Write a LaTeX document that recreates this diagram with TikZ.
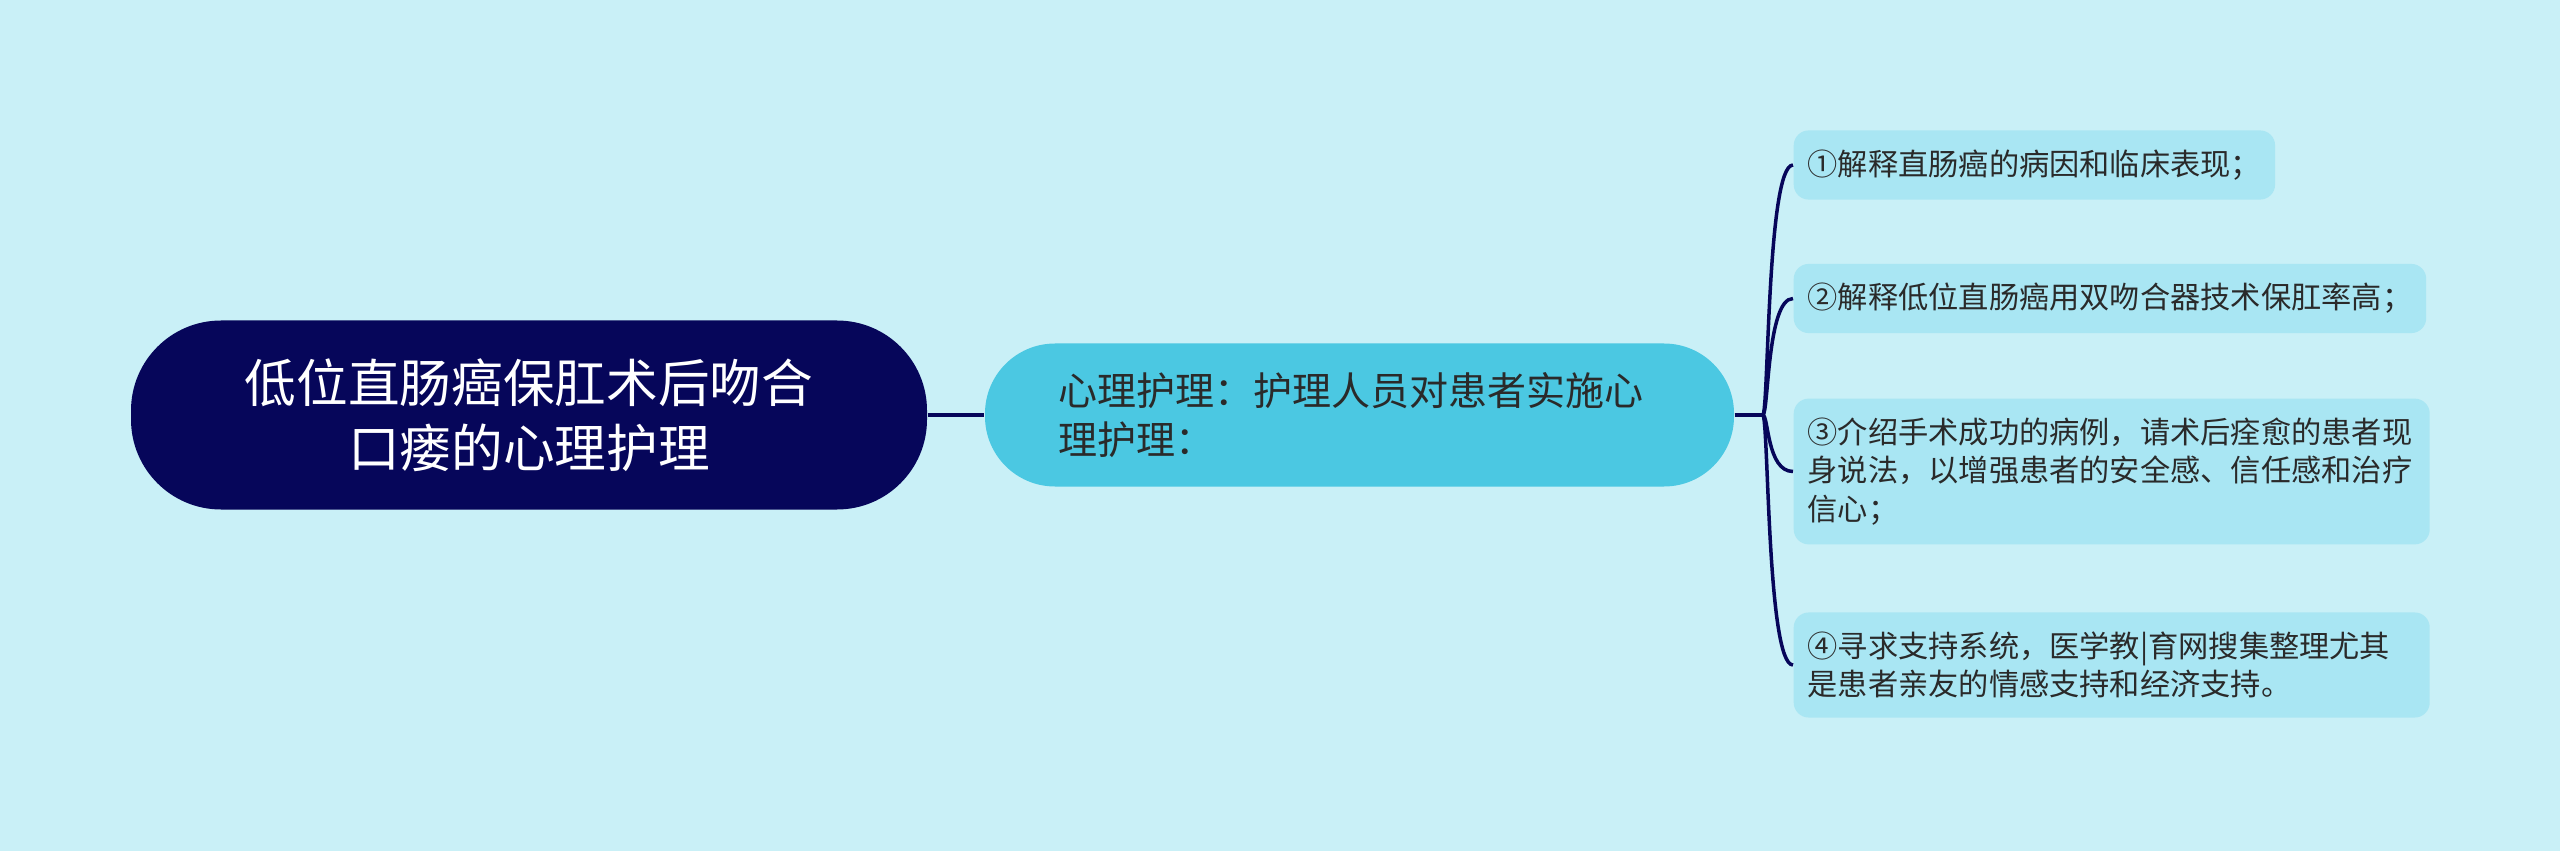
\documentclass[tikz,border=0pt]{standalone}
\usepackage{fontspec}
\newfontfamily\cjk{Noto Sans CJK SC}
\usetikzlibrary{calc}

\definecolor{bgcol}{HTML}{C9F0F7}
\definecolor{navy}{HTML}{06065A}
\definecolor{midcol}{HTML}{4BC8E2}
\definecolor{leafcol}{HTML}{A9E6F3}
\definecolor{txtcol}{HTML}{2A2A2A}

\tikzset{
	rootbox/.style={fill=navy, text=white, rounded corners=0.9cm, minimum width=7.96cm, minimum height=1.89cm, align=center, font=\cjk\fontsize{14.7pt}{18.5pt}\selectfont},
	midbox/.style={fill=midcol, text=txtcol, rounded corners=0.7cm, text width=6.03cm, inner xsep=0.73cm, minimum height=1.43cm, align=left, font=\cjk\fontsize{11.1pt}{13.9pt}\selectfont},
	leafbox/.style={fill=leafcol, text=txtcol, rounded corners=0.15cm, inner xsep=0.14cm, inner ysep=5.5pt, align=left, anchor=west, font=\cjk\fontsize{8.6pt}{10.9pt}\selectfont},
	link/.style={draw=navy, line width=0.035cm}
}

\begin{document}
\begin{tikzpicture}

	\useasboundingbox[fill=bgcol] (0,0) rectangle (25.6,8.51);

	\node [rootbox] (root) at (5.29,4.36) {低位直肠癌保肛术后吻合\\口瘘的心理护理};
	\node [midbox] (mid) at (13.595,4.36) {心理护理：护理人员对患者实施心\\理护理：};

	\node [leafbox] (l1) at (17.93,6.86) {①解释直肠癌的病因和临床表现；};
	\node [leafbox] (l2) at (17.93,5.525) {②解释低位直肠癌用双吻合器技术保肛率高；};
	\node [leafbox, text width=6.08cm] (l3) at (17.93,3.795) {③介绍手术成功的病例，请术后痊愈的患者现\\身说法，以增强患者的安全感、信任感和治疗\\信心；};
	\node [leafbox, text width=6.08cm] (l4) at (17.93,1.86) {④寻求支持系统，医学教|育网搜集整理尤其\\是患者亲友的情感支持和经济支持。};

	\draw [link] (root.east) -- (mid.west);
	\draw [link] (mid.east) -- ++(0.28,0) coordinate (hub);
	\foreach \n in {l1,l2,l3,l4}
		\draw [link] (hub) .. controls ($(hub)+(0.06,0)$) and ($(hub |- \n.west)+(0.04,0)$) .. (\n.west);

\end{tikzpicture}
\end{document}
